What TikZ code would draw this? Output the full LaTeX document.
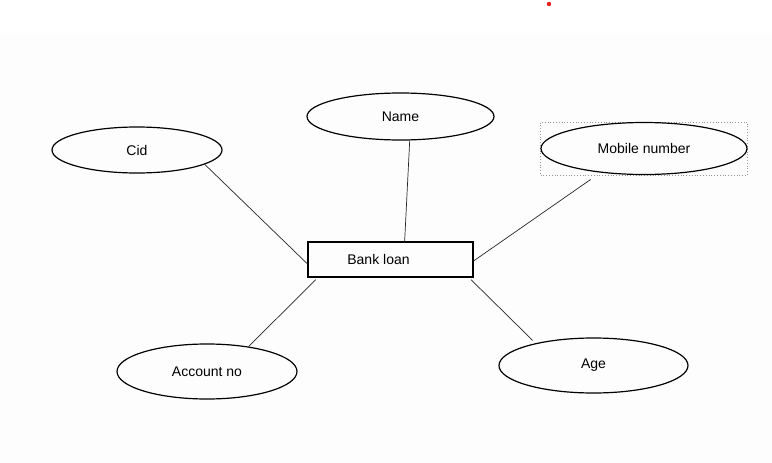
\documentclass[tikz,border=0pt]{standalone}
\usepackage{fontspec}
\setmainfont{Liberation Sans}
\usetikzlibrary{shapes.geometric}
\definecolor{bgpage}{RGB}{253,253,253}
\definecolor{seldot}{RGB}{150,150,150}
\definecolor{reddot}{RGB}{230,30,30}
\tikzset{
  attr/.style={draw=black, line width=1.2pt, ellipse, inner sep=0pt, font=\fontsize{14}{16}\selectfont},
  entbox/.style={draw=black, line width=1.2pt, rectangle, inner sep=0pt, minimum width=165pt, minimum height=35pt, font=\fontsize{14}{16}\selectfont},
  selbox/.style={draw=seldot, dotted, line width=0.8pt, rectangle, inner sep=0pt, minimum width=207pt, minimum height=53pt},
  conn/.style={draw=black!85, line width=0.7pt}
}
\begin{document}
\begin{tikzpicture}[x=1pt,y=-1pt]
\useasboundingbox (0,0) rectangle (772,463);
\fill[bgpage] (0,33) rectangle (772,463);
\fill[reddot] (549,4) circle (2.2);

\node[selbox] (mbox) at (644,148.5) {};
\node[attr, minimum width=170pt, minimum height=46pt] (cid) at (137,150) {Cid};
\node[attr, minimum width=187pt, minimum height=47pt] (name) at (400.5,116.5) {Name};
\node[attr, minimum width=206pt, minimum height=52pt] (mob) at (644,148.5) {Mobile number};
\node[entbox] (bank) at (390.5,259.5) {\hspace*{-24pt}Bank loan};
\node[attr, minimum width=180pt, minimum height=55pt] (acc) at (207,371.5) {Account no};
\node[attr, minimum width=189pt, minimum height=55pt] (age) at (593.5,365.5) {Age};

\draw[conn] (cid.-12) -- (bank.183);
\draw[conn] (name.-69) -- (bank.52);
\draw[conn, shorten <=12pt] (mob.-151) -- (bank.-1.4);
\draw[conn, shorten >=3pt] (acc.31.5) -- (bank.194);
\draw[conn, shorten <=4pt, shorten >=3pt] (age.159.5) -- (bank.-13.8);
\end{tikzpicture}
\end{document}
